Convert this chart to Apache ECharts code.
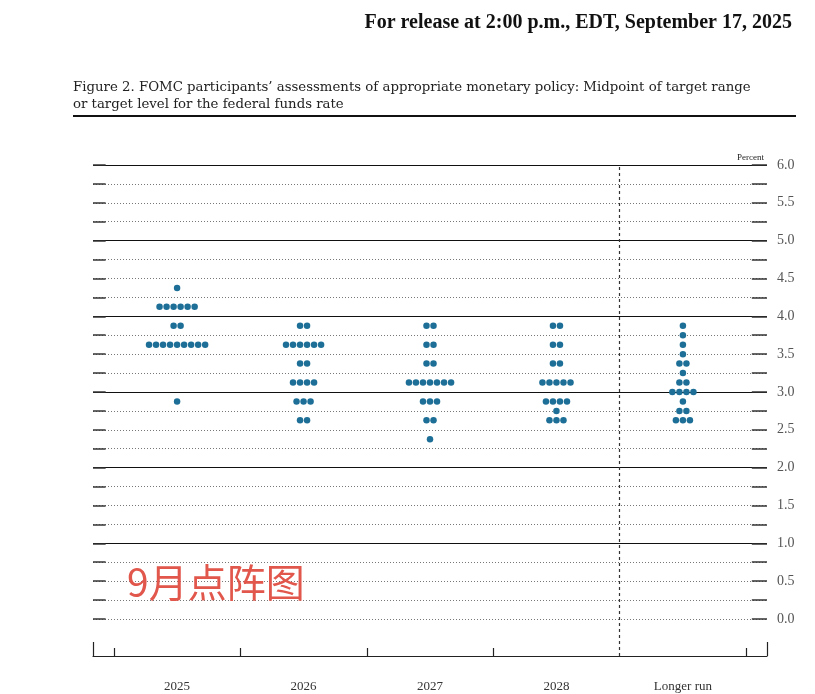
<!DOCTYPE html>
<html>
<head>
<meta charset="utf-8">
<script src="https://cdn.jsdelivr.net/npm/echarts@6/dist/echarts.min.js"></script>
<style>
  html, body { margin: 0; padding: 0; background: #fff; }
  #chart { width: 815px; height: 694px; }
</style>
</head>
<body>
<div id="chart"></div>
<script>
// columns on the x axis
var periods = ['2025', '2026', '2027', '2028', 'Longer run'];

// [rate, number of participants] per column
var dots2025 = [[4.375, 1], [4.125, 6], [3.875, 2], [3.625, 9], [2.875, 1]];
var dots2026 = [[3.875, 2], [3.625, 6], [3.375, 2], [3.125, 4], [2.875, 3], [2.625, 2]];
var dots2027 = [[3.875, 2], [3.625, 2], [3.375, 2], [3.125, 7], [2.875, 3], [2.625, 2], [2.375, 1]];
var dots2028 = [[3.875, 2], [3.625, 2], [3.375, 2], [3.125, 5], [2.875, 4], [2.75, 1], [2.625, 3]];
var dotsLonger = [[3.875, 1], [3.75, 1], [3.625, 1], [3.5, 1], [3.375, 2], [3.25, 1], [3.125, 2], [3.0, 4], [2.875, 1], [2.75, 2], [2.625, 3]];

// y levels
var yLabels = [0, 0.5, 1, 1.5, 2, 2.5, 3, 3.5, 4, 4.5, 5, 5.5, 6];
var solidLevels = [1, 2, 3, 4, 5, 6];
var dottedLevels = [0, 0.25, 0.5, 0.75, 1.25, 1.5, 1.75, 2.25, 2.5, 2.75, 3.25, 3.5, 3.75, 4.25, 4.5, 4.75, 5.25, 5.5, 5.75];

var xMin = -0.665, xMax = 4.665;
var dotGap = 0.0555;
var tickLen = 0.1;

var allDots = [dots2025, dots2026, dots2027, dots2028, dotsLonger];
var points = [];
allDots.forEach(function (col, i) {
    col.forEach(function (row) {
        var n = row[1];
        for (var k = 0; k < n; k++) {
            points.push([i + (k - (n - 1) / 2) * dotGap, row[0]]);
        }
    });
});

var lines = [];
dottedLevels.forEach(function (v) {
    lines.push({ yAxis: v, lineStyle: { type: [1, 2], color: '#777', width: 1 } });
});
solidLevels.forEach(function (v) {
    lines.push({ yAxis: v, lineStyle: { type: 'solid', color: '#111', width: 1.2 } });
});
// short dark ticks at each end of every gridline
dottedLevels.concat(solidLevels).forEach(function (v) {
    lines.push([{ coord: [xMin, v], lineStyle: { type: 'solid', color: '#333', width: 1.5 } }, { coord: [xMin + tickLen, v] }]);
    lines.push([{ coord: [xMax - tickLen * 1.2, v], lineStyle: { type: 'solid', color: '#333', width: 1.5 } }, { coord: [xMax, v] }]);
});
// vertical dashed separator before "Longer run"
lines.push({ xAxis: 3.5, lineStyle: { type: [3, 3], color: '#333', width: 1.2 } });

var serif = '"Liberation Serif", "DejaVu Serif", serif';

var option = {
    backgroundColor: '#fff',
    animation: false,
    title: [
        {
            text: 'For release at 2:00 p.m., EDT, September 17, 2025',
            right: 18, top: 8,
            textStyle: { fontFamily: serif, fontSize: 20, fontWeight: 'bold', color: '#111' }
        },
        {
            text: 'Figure 2. FOMC participants\u2019 assessments of appropriate monetary policy: Midpoint of target range\nor target level for the federal funds rate',
            left: 68, top: 74,
            textStyle: { fontFamily: '"DejaVu Serif", serif', fontSize: 13.3, fontWeight: 'normal', color: '#222', lineHeight: 17 }
        },
        {
            text: 'Percent',
            right: 46, top: 148,
            textStyle: { fontFamily: serif, fontSize: 9, fontWeight: 'normal', color: '#222' }
        },
        {
            text: '9月点阵图',
            left: 122, top: 558,
            textStyle: { fontFamily: '"Noto Sans CJK SC", sans-serif', fontSize: 39, fontWeight: 'normal', color: '#e2574c' }
        }
    ],
    graphic: [
        { type: 'rect', shape: { x: 73, y: 115, width: 723, height: 2 }, style: { fill: '#111' } }
    ],
    grid: { left: 93, right: 48, top: 165, bottom: 38 },
    xAxis: [
        {
            type: 'value', min: xMin, max: xMax, position: 'bottom',
            axisLine: { show: true, onZero: false, lineStyle: { color: '#222', width: 1.2 } },
            axisTick: { show: true, inside: true, length: 8, customValues: [-0.5, 0.5, 1.5, 2.5, 4.5], lineStyle: { color: '#222', width: 1.2 } },
            axisLabel: {
                show: true, customValues: [0, 1, 2, 3, 4], margin: 24,
                fontFamily: serif, fontSize: 13, color: '#333',
                formatter: function (v) { return periods[Math.round(v)]; }
            },
            splitLine: { show: false }
        },
        {
            type: 'value', min: xMin, max: xMax, position: 'bottom',
            axisLine: { show: false, onZero: false },
            axisTick: { show: true, inside: true, length: 14, customValues: [xMin, xMax], lineStyle: { color: '#222', width: 1.2 } },
            axisLabel: { show: false },
            splitLine: { show: false }
        }
    ],
    yAxis: [
        {
            type: 'value', min: -0.49, max: 6, position: 'right',
            axisLine: { show: false },
            axisTick: { show: false },
            axisLabel: {
                show: true, customValues: yLabels, margin: 10,
                fontFamily: serif, fontSize: 14, color: '#555',
                formatter: function (v) { return v.toFixed(1); }
            },
            splitLine: { show: false }
        }
    ],
    series: [
        {
            type: 'scatter', data: [], z: 1, silent: true,
            markLine: { symbol: ['none', 'none'], silent: true, label: { show: false }, data: lines, z: 1 }
        },
        {
            type: 'scatter', data: points, z: 5,
            symbol: 'circle', symbolSize: 6.5,
            itemStyle: { color: '#1d6f97', opacity: 1 }
        }
    ]
};

echarts.init(document.getElementById('chart')).setOption(option);
</script>
</body>
</html>
